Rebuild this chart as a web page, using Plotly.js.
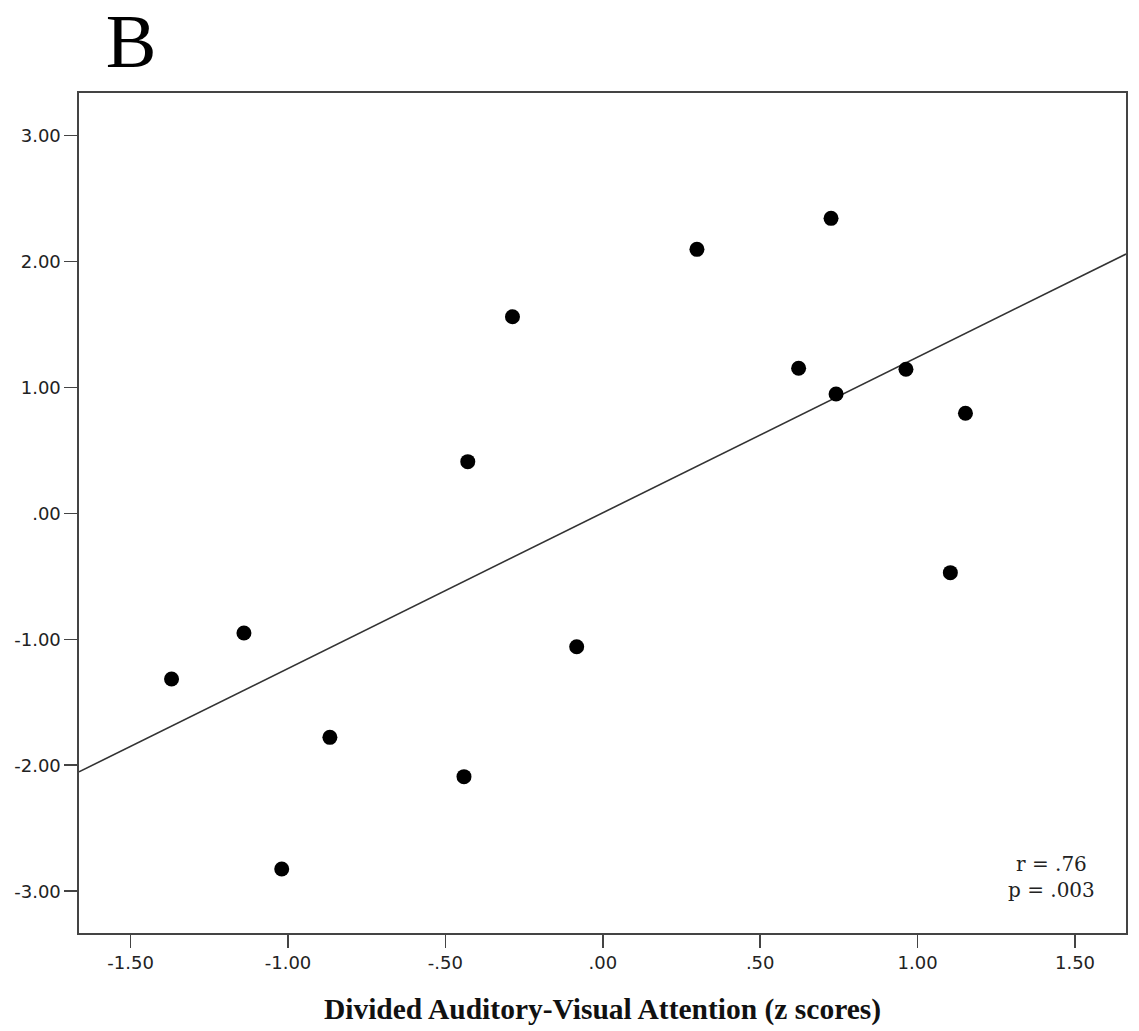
<!DOCTYPE html>
<html>
<head>
<meta charset="utf-8">
<script src="https://cdn.plot.ly/plotly-3.0.1.min.js"></script>
<style>
html,body{margin:0;padding:0;background:#fff;}
#chart{width:1139px;height:1031px;}
</style>
</head>
<body>
<div id="chart"></div>
<script>
// Data
const xValues = [-1.370, -1.140, -1.020, -0.867, -0.441, -0.429, -0.287, -0.083, 0.299, 0.622, 0.725, 0.741, 0.963, 1.104, 1.152];
const yValues = [-1.315, -0.950, -2.823, -1.778, -2.090, 0.410, 1.560, -1.059, 2.095, 1.151, 2.341, 0.947, 1.143, -0.471, 0.794];
// Fit line endpoints (read at plot edges)
const fitX = [-1.664, 1.662];
const fitY = [-2.052, 2.058];
const xTickVals = [-1.5, -1.0, -0.5, 0, 0.5, 1.0, 1.5];
const xTickText = ["-1.50", "-1.00", "-.50", ".00", ".50", "1.00", "1.50"];
const yTickVals = [-3, -2, -1, 0, 1, 2, 3];
const yTickText = ["-3.00", "-2.00", "-1.00", ".00", "1.00", "2.00", "3.00"];
const panelLabel = "B";
const xTitle = "Divided Auditory-Visual Attention (z scores)";
const statsText = "r = .76<br>p = .003";

const traces = [
  {
    x: fitX, y: fitY, type: 'scatter', mode: 'lines',
    line: {color: '#333333', width: 1.6},
    hoverinfo: 'skip', showlegend: false
  },
  {
    x: xValues, y: yValues, type: 'scatter', mode: 'markers',
    marker: {color: '#000000', size: 15},
    showlegend: false
  }
];

const axisCommon = {
  showline: true, mirror: true, linecolor: '#444444', linewidth: 1.6,
  showgrid: false, zeroline: false,
  ticks: 'outside', ticklen: 13, tickwidth: 1.6, tickcolor: '#444444',
  tickfont: {family: 'DejaVu Sans', size: 18, color: '#222222'}
};

const layout = {
  width: 1139, height: 1031,
  paper_bgcolor: '#ffffff', plot_bgcolor: '#ffffff',
  margin: {l: 79, r: 13, t: 93, b: 98},
  title: {
    text: panelLabel,
    font: {family: 'Liberation Serif', size: 76, color: '#000000'},
    x: 131/1139, xanchor: 'center', xref: 'container',
    y: 1 - 40/1031, yanchor: 'middle', yref: 'container'
  },
  xaxis: Object.assign({}, axisCommon, {
    range: [-1.664, 1.662],
    tickvals: xTickVals, ticktext: xTickText,
    title: {
      text: '<b>' + xTitle + '</b>',
      font: {family: 'Liberation Serif', size: 29.5, color: '#111111'},
      standoff: 26
    },
    automargin: false
  }),
  yaxis: Object.assign({}, axisCommon, {
    range: [-3.331, 3.336],
    tickvals: yTickVals, ticktext: yTickText,
    automargin: false
  }),
  annotations: [{
    text: statsText, xref: 'paper', yref: 'paper',
    x: 0.929, y: 0.0667, xanchor: 'center', yanchor: 'middle',
    showarrow: false, align: 'center',
    font: {family: 'DejaVu Serif', size: 20, color: '#222222'}
  }]
};

Plotly.newPlot('chart', traces, layout, {displayModeBar: false, staticPlot: true});
</script>
</body>
</html>
